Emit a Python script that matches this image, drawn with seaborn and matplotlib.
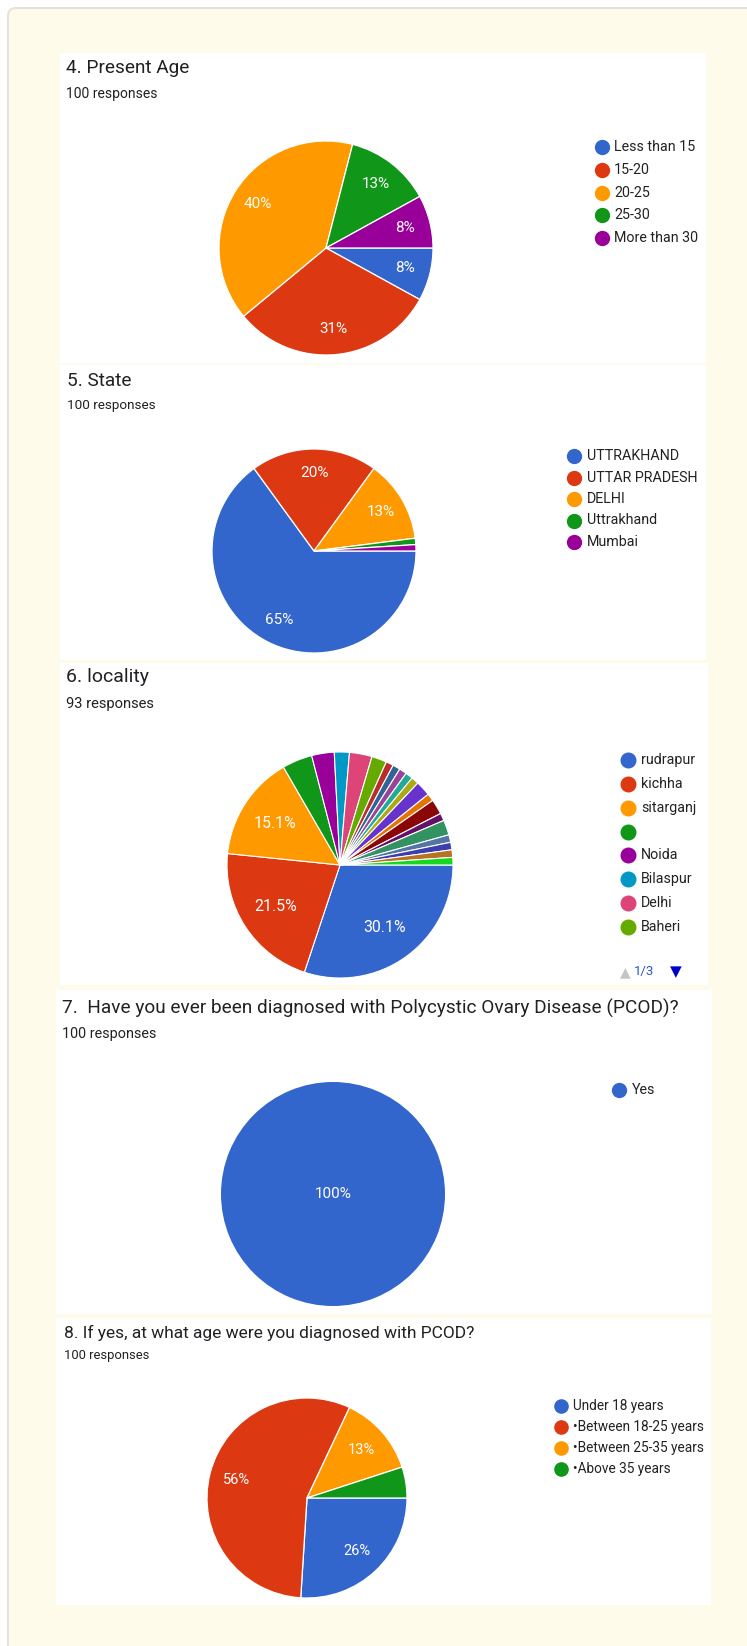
import matplotlib
matplotlib.use("Agg")
import matplotlib.pyplot as plt
from matplotlib.patches import Rectangle, FancyBboxPatch
import seaborn as sns

# ---------------- data ----------------
age_title = "4. Present Age"
age_resp = "100 responses"
age_labels = ["Less than 15", "15-20", "20-25", "25-30", "More than 30"]
age_values = [8, 31, 40, 13, 8]

state_title = "5. State"
state_resp = "100 responses"
state_labels = ["UTTRAKHAND", "UTTAR PRADESH", "DELHI", "Uttrakhand", "Mumbai"]
state_values = [65, 20, 13, 1, 1]

loc_title = "6. locality"
loc_resp = "93 responses"
loc_legend_labels = ["rudrapur", "kichha", "sitarganj", "", "Noida", "Bilaspur", "Delhi", "Baheri"]
loc_counts = [28, 20, 14, 4, 3, 2, 3, 2, 1, 1, 1, 1, 1, 2, 1, 2, 1, 2, 1, 1, 1, 1]
loc_page = "1/3"

pcod_title = "7.  Have you ever been diagnosed with Polycystic Ovary Disease (PCOD)?"
pcod_resp = "100 responses"
pcod_labels = ["Yes"]
pcod_values = [100]

diag_title = "8. If yes, at what age were you diagnosed with PCOD?"
diag_resp = "100 responses"
diag_labels = ["Under 18 years", "\u2022Between 18-25 years", "\u2022Between 25-35 years", "\u2022Above 35 years"]
diag_values = [26, 56, 13, 5]

google_hex = ["#3366cc", "#dc3912", "#ff9900", "#109618", "#990099", "#0099c6",
              "#dd4477", "#66aa00", "#b82e2e", "#316395", "#994499", "#22aa99",
              "#aaaa11", "#6633cc", "#e67300", "#8b0707", "#651067", "#329262",
              "#5574a6", "#3b3eac", "#b77322", "#16d620"]

# ---------------- style ----------------
sns.set_theme(style="white")
plt.rcParams["font.family"] = ["Roboto", "DejaVu Sans"]
palette = sns.color_palette(google_hex)

W, H = 747, 1646
fig = plt.figure(figsize=(W / 100, H / 100), dpi=100)
fig.patch.set_facecolor("white")

bg = fig.add_axes([0, 0, 1, 1])
bg.set_xlim(0, W)
bg.set_ylim(H, 0)
bg.axis("off")

CREAM = "#fffbea"
bg.add_patch(FancyBboxPatch((8, 8), 780, 1700, boxstyle="round,pad=0,rounding_size=8",
                            facecolor=CREAM, edgecolor="#e4e2d8", linewidth=1.5))

TXT = "#202124"


def fmt_pct(p):
    if p < 6:
        return ""
    s = f"{p:.1f}"
    if s.endswith(".0"):
        s = s[:-2]
    return s + "%"


def panel(x0, y0, x1, y1, title, resp, tx, ty, sy, tfs=13.7, sfs=10.0):
    bg.add_patch(Rectangle((x0, y0), x1 - x0, y1 - y0, facecolor="white", edgecolor="none"))
    bg.text(tx, ty, title, fontsize=tfs, color=TXT, va="center", ha="left")
    bg.text(tx, sy, resp, fontsize=sfs, color=TXT, va="center", ha="left")


def pie(cx, cy, r, values, pctdist, lw=0.9, pfs=11):
    k = 1.04
    ax = fig.add_axes([(cx - r * k) / W, 1 - (cy + r * k) / H, 2 * r * k / W, 2 * r * k / H])
    ax.pie(values, colors=palette[:len(values)], startangle=0, counterclock=False,
           autopct=fmt_pct, pctdistance=pctdist, radius=1,
           wedgeprops=dict(edgecolor="white", linewidth=lw),
           textprops=dict(color="white", fontsize=pfs))
    ax.set_xlim(-k, k)
    ax.set_ylim(-k, k)
    ax.set_aspect("equal")
    ax.axis("off")
    return ax


def legend(xd, xt, y0, dy, labels, lfs=10.3, ms=10):
    for i, lab in enumerate(labels):
        y = y0 + i * dy
        bg.plot([xd], [y], marker="o", ms=ms, color=palette[i], ls="none")
        bg.text(xt, y, lab, fontsize=lfs, color="#222222", va="center", ha="left")


# panel 1
panel(60, 53, 706, 363, age_title, age_resp, 66, 68, 94)
pie(326, 248, 107, age_values, 0.76)
legend(602, 614, 147, 22.75, age_labels)

# panel 2
panel(60, 365, 706, 660, state_title, state_resp, 67, 381, 405, sfs=9.7)
pie(314, 551, 102, state_values, 0.76)
legend(574, 587, 456, 21.5, state_labels)

# panel 3
panel(60, 663, 708, 985, loc_title, loc_resp, 66, 677, 704, tfs=14.0, sfs=10.6)
pie(340, 865, 113, loc_counts, 0.68, lw=0.8, pfs=11.4)
legend(628, 641, 760, 23.85, loc_legend_labels, ms=10.5)
bg.text(625, 972, "\u25B2", fontsize=10, color="#c4c4c4", ha="center", va="center",
        family=["DejaVu Sans"])
bg.text(634, 971, loc_page, fontsize=9.5, color="#2a56c6", ha="left", va="center")
bg.text(676, 972, "\u25BC", fontsize=11, color="#0000cc", ha="center", va="center",
        family=["DejaVu Sans"])

# panel 4
panel(56, 990, 712, 1314, pcod_title, pcod_resp, 62, 1008, 1034, sfs=10.4)
pie(333, 1194, 112, pcod_values, 0.0, lw=0)
legend(619, 632, 1090, 22, pcod_labels)

# panel 5
panel(56, 1318, 711, 1605, diag_title, diag_resp, 64, 1333, 1356, tfs=12.5, sfs=9.4)
pie(307, 1498, 100, diag_values, 0.73, pfs=10.5)
legend(561, 573, 1406, 21, diag_labels, lfs=9.8, ms=9.5)

fig.savefig("out.png", dpi=100, facecolor=fig.get_facecolor())
